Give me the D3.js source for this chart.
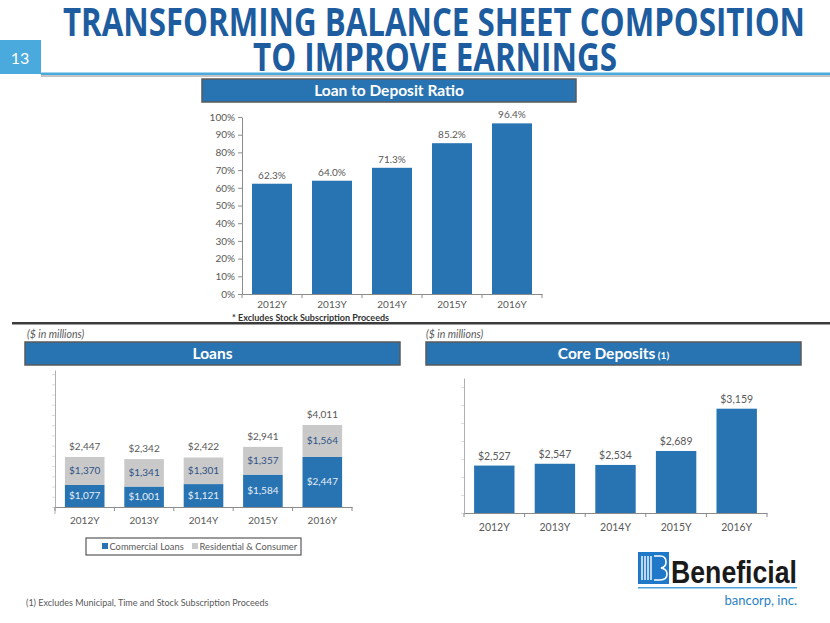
<!DOCTYPE html>
<html><head><meta charset="utf-8">
<script src="https://cdn.jsdelivr.net/npm/d3@7"></script>
<style>html,body{margin:0;padding:0;background:#fff;}svg{display:block;}</style>
</head><body>
<script>
// ---------- data ----------
const years = ["2012Y", "2013Y", "2014Y", "2015Y", "2016Y"];
const loanToDeposit = [62.3, 64.0, 71.3, 85.2, 96.4];
const commercialLoans = [1077, 1001, 1121, 1584, 2447];
const residentialConsumer = [1370, 1341, 1301, 1357, 1564];
const loanTotals = [2447, 2342, 2422, 2941, 4011];
const coreDeposits = [2527, 2547, 2534, 2689, 3159];
const pctTicks = [0, 10, 20, 30, 40, 50, 60, 70, 80, 90, 100];
const seriesNames = ["Commercial Loans", "Residential & Consumer"];

const W = 830, H = 623;
const BLUE = "#2874b2", GRAY = "#c9c9c9", AXIS = "#8c8c8c", LBL = "#595959";
const FONT = "Lato, 'Open Sans', sans-serif";

const svg = d3.select("body").append("svg").attr("width", W).attr("height", H)
  .style("font-family", FONT);

// ---------- header ----------
svg.append("rect").attr("x", 0).attr("y", 40).attr("width", 41).attr("height", 34).attr("fill", "#4aa9dd");
svg.append("text").attr("x", 20).attr("y", 64).attr("text-anchor", "middle").attr("fill", "#fff")
  .attr("font-size", 16).text("13");
svg.append("rect").attr("x", 41).attr("y", 75).attr("width", W - 41).attr("height", 2).attr("fill", "#c4c4c4");
svg.append("rect").attr("x", 41).attr("y", 72.5).attr("width", W - 41).attr("height", 2.5).attr("fill", "#4aa9dd");
svg.append("text").attr("x", 63).attr("y", 36).attr("fill", "#1d5c9f")
  .attr("font-family", "'Open Sans', sans-serif").attr("font-weight", 700).attr("font-size", 39)
  .attr("textLength", 742).attr("lengthAdjust", "spacingAndGlyphs")
  .text("TRANSFORMING BALANCE SHEET COMPOSITION");
svg.append("text").attr("x", 253).attr("y", 71).attr("fill", "#1d5c9f")
  .attr("font-family", "'Open Sans', sans-serif").attr("font-weight", 700).attr("font-size", 39)
  .attr("textLength", 364).attr("lengthAdjust", "spacingAndGlyphs")
  .text("TO IMPROVE EARNINGS");

function titleBar(x, y, w, h, label, sub) {
  svg.append("rect").attr("x", x).attr("y", y).attr("width", w).attr("height", h)
    .attr("fill", BLUE).attr("stroke", "#5a5a5a").attr("stroke-width", 1.5);
  const t = svg.append("text").attr("x", x + w / 2).attr("y", y + h / 2 + 5.5)
    .attr("text-anchor", "middle").attr("fill", "#fff").attr("font-weight", 700).attr("font-size", 15.5);
  t.append("tspan").text(label);
  if (sub) t.append("tspan").attr("font-size", 10).text(" " + sub);
}

// ---------- Loan to Deposit Ratio ----------
titleBar(202, 79, 374, 23, "Loan to Deposit Ratio");
{
  const x = d3.scaleBand().domain(years).range([242, 542]).paddingInner(1/3).paddingOuter(1/6);
  const y = d3.scaleLinear().domain([0, 100]).range([294, 117]);
  const g = svg.append("g");
  g.selectAll("rect.b").data(loanToDeposit).join("rect").attr("class", "b")
    .attr("x", (d, i) => x(years[i])).attr("width", x.bandwidth())
    .attr("y", d => y(d)).attr("height", d => y(0) - y(d)).attr("fill", BLUE);
  g.selectAll("text.v").data(loanToDeposit).join("text").attr("class", "v")
    .attr("x", (d, i) => x(years[i]) + x.bandwidth() / 2).attr("y", d => y(d) - 5)
    .attr("text-anchor", "middle").attr("font-size", 10).attr("fill", LBL).text(d => d.toFixed(1) + "%");
  const ya = g.append("g").attr("transform", "translate(242,0)")
    .call(d3.axisLeft(y).tickValues(pctTicks).tickFormat(d => d + "%").tickSize(4).tickSizeOuter(0));
  ya.select(".domain").attr("stroke", AXIS);
  ya.selectAll(".tick line").attr("stroke", AXIS);
  ya.selectAll(".tick text").attr("fill", LBL).attr("font-size", 10).attr("font-family", FONT);
  const xa = g.append("g").attr("transform", "translate(0,294)")
    .call(d3.axisBottom(x).tickSize(0).tickPadding(7));
  xa.select(".domain").attr("stroke", AXIS);
  xa.selectAll(".tick text").attr("fill", LBL).attr("font-size", 10).attr("font-family", FONT);
  g.selectAll("line.bt").data(d3.range(years.length + 1)).join("line").attr("class", "bt")
    .attr("x1", i => 242 + i * x.step()).attr("x2", i => 242 + i * x.step())
    .attr("y1", 294).attr("y2", 298).attr("stroke", AXIS);
  svg.append("text").attr("x", 232).attr("y", 320.5).attr("font-size", 9).attr("font-weight", 700)
    .attr("fill", "#333").text("* Excludes Stock Subscription Proceeds");
}

// separator
svg.append("rect").attr("x", 12).attr("y", 322).attr("width", W - 12).attr("height", 2.5).attr("fill", "#3c3c3c");

// ---------- Loans ----------
svg.append("text").attr("x", 27).attr("y", 338).attr("font-size", 10.5).attr("font-style", "italic")
  .attr("fill", LBL).text("($ in millions)");
svg.append("text").attr("x", 426).attr("y", 338).attr("font-size", 10.5).attr("font-style", "italic")
  .attr("fill", LBL).text("($ in millions)");
titleBar(25, 342, 375, 23, "Loans");
{
  const x = d3.scaleBand().domain(years).range([55, 352]).paddingInner(1/3).paddingOuter(1/6);
  const y = d3.scaleLinear().domain([0, 6700]).range([507, 370]);
  const g = svg.append("g");
  const ya = g.append("g").attr("transform", "translate(55,0)")
    .call(d3.axisLeft(y).tickValues(d3.range(0, 6600, 500)).tickFormat("").tickSize(3).tickSizeOuter(0));
  ya.select(".domain").attr("stroke", "#b0b0b0");
  ya.selectAll(".tick line").attr("stroke", "#dddddd");
  g.append("line").attr("x1", 55).attr("x2", 55).attr("y1", 507).attr("y2", 514).attr("stroke", "#b0b0b0");
  g.selectAll("rect.c").data(commercialLoans).join("rect").attr("class", "c")
    .attr("x", (d, i) => x(years[i])).attr("width", x.bandwidth())
    .attr("y", d => y(d)).attr("height", d => y(0) - y(d)).attr("fill", BLUE);
  g.selectAll("rect.r").data(residentialConsumer).join("rect").attr("class", "r")
    .attr("x", (d, i) => x(years[i])).attr("width", x.bandwidth())
    .attr("y", (d, i) => y(commercialLoans[i] + d)).attr("height", d => y(0) - y(d)).attr("fill", GRAY);
  const fmt = d3.format("$,");
  g.selectAll("text.c").data(commercialLoans).join("text").attr("class", "c")
    .attr("x", (d, i) => x(years[i]) + x.bandwidth() / 2).attr("y", d => y(d / 2) + 3.5)
    .attr("text-anchor", "middle").attr("font-size", 10).attr("fill", "#e6eef7").text(d => fmt(d));
  g.selectAll("text.r").data(residentialConsumer).join("text").attr("class", "r")
    .attr("x", (d, i) => x(years[i]) + x.bandwidth() / 2).attr("y", (d, i) => y(commercialLoans[i] + d / 2) + 3.5)
    .attr("text-anchor", "middle").attr("font-size", 10).attr("fill", "#2f5386").text(d => fmt(d));
  g.selectAll("text.t").data(loanTotals).join("text").attr("class", "t")
    .attr("x", (d, i) => x(years[i]) + x.bandwidth() / 2).attr("y", d => y(d) - 7)
    .attr("text-anchor", "middle").attr("font-size", 10).attr("fill", LBL).text(d => fmt(d));
  const xa = g.append("g").attr("transform", "translate(0,507)")
    .call(d3.axisBottom(x).tickSize(0).tickPadding(9.5));
  xa.select(".domain").attr("stroke", AXIS);
  xa.selectAll(".tick text").attr("fill", LBL).attr("font-size", 10).attr("font-family", FONT);
  g.selectAll("line.bt").data(d3.range(years.length + 1)).join("line").attr("class", "bt")
    .attr("x1", i => 55 + i * x.step()).attr("x2", i => 55 + i * x.step())
    .attr("y1", 507).attr("y2", 511).attr("stroke", AXIS);
  // legend
  svg.append("rect").attr("x", 86).attr("y", 538).attr("width", 215).attr("height", 17)
    .attr("fill", "#fff").attr("stroke", "#595959").attr("stroke-width", 1.2);
  const lx = [102, 192], lc = [BLUE, GRAY];
  seriesNames.forEach((n, i) => {
    svg.append("rect").attr("x", lx[i]).attr("y", 543).attr("width", 6).attr("height", 6).attr("fill", lc[i]);
    svg.append("text").attr("x", lx[i] + 7.5).attr("y", 549.5).attr("font-size", 9.3).attr("fill", LBL).text(n);
  });
}

// ---------- Core Deposits ----------
titleBar(426, 342, 375, 23, "Core Deposits", "(1)");
{
  const x = d3.scaleBand().domain(years).range([464, 767]).paddingInner(1/3).paddingOuter(1/6);
  const y = d3.scaleLinear().domain([2000, 3500]).range([513, 378]);
  const g = svg.append("g");
  const ya = g.append("g").attr("transform", "translate(464,0)")
    .call(d3.axisLeft(y).tickValues(d3.range(2000, 3500, 200)).tickFormat("").tickSize(3).tickSizeOuter(0));
  ya.select(".domain").attr("stroke", "#b0b0b0");
  ya.selectAll(".tick line").attr("stroke", "#dddddd");
  g.selectAll("rect.b").data(coreDeposits).join("rect").attr("class", "b")
    .attr("x", (d, i) => x(years[i])).attr("width", x.bandwidth())
    .attr("y", d => y(d)).attr("height", d => y(2000) - y(d)).attr("fill", BLUE);
  g.selectAll("text.v").data(coreDeposits).join("text").attr("class", "v")
    .attr("x", (d, i) => x(years[i]) + x.bandwidth() / 2).attr("y", d => y(d) - 6)
    .attr("text-anchor", "middle").attr("font-size", 10.5).attr("fill", LBL).text(d => d3.format("$,")(d));
  const xa = g.append("g").attr("transform", "translate(0,513)")
    .call(d3.axisBottom(x).tickSize(0).tickPadding(10.5));
  xa.select(".domain").attr("stroke", AXIS);
  xa.selectAll(".tick text").attr("fill", LBL).attr("font-size", 10.5).attr("font-family", FONT);
  g.selectAll("line.bt").data(d3.range(years.length + 1)).join("line").attr("class", "bt")
    .attr("x1", i => 464 + i * x.step()).attr("x2", i => 464 + i * x.step())
    .attr("y1", 513).attr("y2", 517).attr("stroke", AXIS);
}

// ---------- footnote ----------
svg.append("text").attr("x", 26).attr("y", 606).attr("font-size", 9).attr("fill", LBL)
  .text("(1) Excludes Municipal, Time and Stock Subscription Proceeds");

// ---------- logo ----------
{
  const L = svg.append("g");
  L.append("rect").attr("x", 638).attr("y", 552).attr("width", 31).attr("height", 32).attr("fill", "#1f78c8");
  const wl = (x1, y1, x2, y2) => L.append("line").attr("x1", x1).attr("y1", y1).attr("x2", x2).attr("y2", y2)
    .attr("stroke", "#fff").attr("stroke-width", 1.4);
  [642, 645, 648, 651].forEach(xx => wl(xx, 556, xx, 580));
  L.append("path").attr("d", "M654,556 H660 Q666,556 666,562 Q666,567 661,568 Q667,569 667,574 Q667,580 660,580 H654")
    .attr("fill", "none").attr("stroke", "#fff").attr("stroke-width", 1.6);
  L.append("text").attr("x", 671).attr("y", 583).attr("font-family", "'Liberation Sans', Arial, sans-serif")
    .attr("font-weight", 700).attr("font-size", 32).attr("fill", "#1a1a1a")
    .attr("textLength", 126).attr("lengthAdjust", "spacingAndGlyphs").text("Beneficial");
  L.append("rect").attr("x", 638).attr("y", 587).attr("width", 159).attr("height", 1.5).attr("fill", "#4aa3dd");
  L.append("text").attr("x", 797).attr("y", 605).attr("text-anchor", "end").attr("font-size", 13)
    .attr("fill", "#2a7fc4").text("bancorp, inc.");
}
</script>
</body></html>
